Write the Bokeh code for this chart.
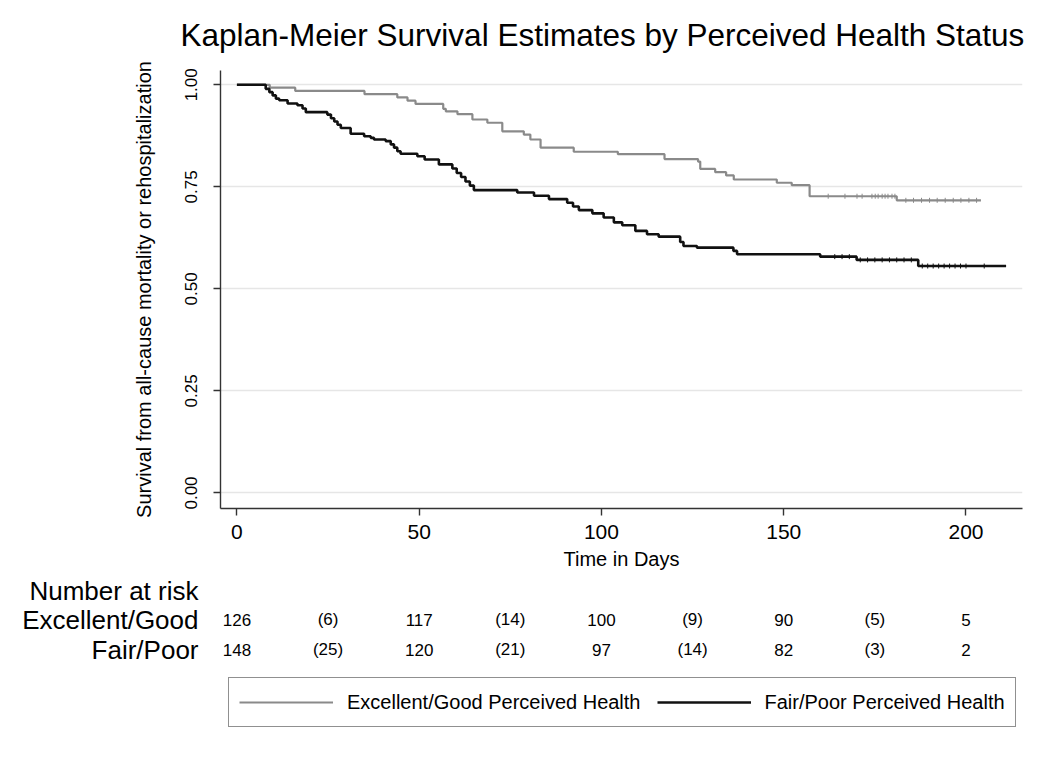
import numpy as np
from bokeh.plotting import figure
from bokeh.layouts import column
from bokeh.models import Range1d, FixedTicker, Label, Legend, LegendItem, NumeralTickFormatter
from bokeh.embed import file_html
from bokeh.resources import INLINE

# ---------------- data ----------------
title_text = "Kaplan-Meier Survival Estimates by Perceived Health Status"
y_label = "Survival from all-cause mortality or rehospitalization"
x_label = "Time in Days"
x_ticks = [0, 50, 100, 150, 200]
y_ticks = [0.0, 0.25, 0.5, 0.75, 1.0]

# Excellent/Good perceived health (grey)
eg_time = [0, 9, 16, 35, 44, 46.8, 49, 56.6, 57.3, 60.5, 64.6, 68.7, 72.8, 78.7, 80.5,
           83.3, 92.4, 104.5, 117.3, 126.5, 127.1, 131.2, 134.2, 136.3, 148.1, 152.2,
           157.1, 181.0, 204.1]
eg_surv = [1.0, 0.993, 0.985, 0.977, 0.969, 0.961, 0.953, 0.941, 0.935, 0.928, 0.915,
           0.907, 0.886, 0.878, 0.866, 0.846, 0.836, 0.830, 0.818, 0.812, 0.794, 0.786,
           0.778, 0.768, 0.760, 0.754, 0.727, 0.717, 0.717]

# Fair/Poor perceived health (black)
fp_time = [0, 7.9, 8.9, 9.8, 10.7, 11.6, 13.9, 16.6, 18.0, 18.9, 24.8, 25.8, 26.7, 27.6,
           28.5, 31.2, 34.9, 36.7, 37.6, 40.8, 42.2, 43.1, 44.0, 44.9, 49.5, 51.5, 55.4,
           59.1, 60.3, 61.5, 62.7, 63.9, 65.0, 76.9, 81.5, 85.6, 90.6, 92.2, 93.8, 97.5,
           100.6, 103.4, 105.7, 109.3, 112.5, 115.7, 121.6, 122.5, 126.2, 136.2, 137.2,
           160.0, 170.0, 186.9, 211.0]
fp_surv = [1.0, 0.990, 0.982, 0.974, 0.966, 0.962, 0.954, 0.950, 0.942, 0.933, 0.927,
           0.918, 0.910, 0.902, 0.894, 0.880, 0.874, 0.870, 0.866, 0.862, 0.854, 0.846,
           0.837, 0.831, 0.825, 0.817, 0.805, 0.795, 0.784, 0.774, 0.763, 0.753, 0.742,
           0.736, 0.728, 0.720, 0.711, 0.702, 0.693, 0.685, 0.675, 0.663, 0.656, 0.642,
           0.634, 0.628, 0.615, 0.605, 0.601, 0.593, 0.585, 0.579, 0.571, 0.556, 0.556]

# censoring times
eg_censor = [162.2, 166.8, 170.1, 171.5, 174.2, 175.1, 175.9, 177.0, 177.8, 178.6, 179.7,
             180.5, 183.5, 185.6, 187.8, 190.0, 192.1, 194.3, 196.5, 198.6, 200.8, 202.9]
fp_censor = [164, 166, 168, 171, 173, 175, 177, 179, 181, 183, 185, 188, 189.5, 191,
             192.5, 194, 195.5, 197, 198.5, 200, 205]

# number at risk table
risk_title = "Number at risk"
risk_rows = ["Excellent/Good", "Fair/Poor"]
risk_time = [0, 25, 50, 75, 100, 125, 150, 175, 200]
risk_eg = ["126", "(6)", "117", "(14)", "100", "(9)", "90", "(5)", "5"]
risk_fp = ["148", "(25)", "120", "(21)", "97", "(14)", "82", "(3)", "2"]

legend_labels = ["Excellent/Good Perceived Health", "Fair/Poor Perceived Health"]

# ---------------- layout ----------------
W = 1034
H_MAIN, H_BOTTOM = 572, 175
ML, MR, MT, MB = 220, 12, 70, 62
X0, X1 = -4.5, 215.5
Y0, Y1 = -0.038, 1.035
FONT = "Liberation Sans"
GREY = "#8a8a8a"
BLACK = "#111111"
ROW_Y = [18, 47, 77]   # vertical centres of the risk-table rows (px inside bottom panel)


def step_value(times, surv, t):
    idx = np.searchsorted(np.asarray(times), t, side="right") - 1
    return surv[max(idx, 0)]


# ---- main plot ----
p = figure(width=W, height=H_MAIN, x_range=Range1d(X0, X1), y_range=Range1d(Y0, Y1),
           output_backend="svg", toolbar_location=None, title=title_text,
           min_border_left=ML, min_border_right=MR, min_border_top=MT, min_border_bottom=MB)
p.outline_line_color = None
p.title.align = "left"
p.title.vertical_align = "top"
p.title.offset = -40
p.title.standoff = 32
p.title.text_font = FONT
p.title.text_font_size = "31.5px"
p.title.text_font_style = "normal"
p.title.text_color = "black"

p.xgrid.visible = False
p.ygrid.ticker = FixedTicker(ticks=y_ticks)
p.ygrid.grid_line_color = "#e6e6e6"
p.ygrid.grid_line_width = 1.5

for ax in (p.xaxis[0], p.yaxis[0]):
    ax.axis_line_color = "#333333"
    ax.axis_line_width = 1.4
    ax.major_tick_line_color = "#333333"
    ax.major_tick_line_width = 1.4
    ax.major_tick_in = 0
    ax.major_tick_out = 7
    ax.minor_tick_line_color = None
    ax.major_label_text_color = "black"
    ax.major_label_text_font = FONT
    ax.axis_label_text_font = FONT
    ax.axis_label_text_font_style = "normal"
    ax.axis_label_text_color = "black"
    ax.axis_label_text_font_size = "20px"

p.xaxis.ticker = FixedTicker(ticks=x_ticks)
p.xaxis.major_label_text_font_size = "21px"
p.xaxis.major_label_standoff = 9
p.xaxis.axis_label = x_label
p.xaxis.axis_label_standoff = 6

p.yaxis.ticker = FixedTicker(ticks=y_ticks)
p.yaxis.formatter = NumeralTickFormatter(format="0.00")
p.yaxis.major_label_orientation = "vertical"
p.yaxis.major_label_text_font_size = "17px"
p.yaxis.major_label_standoff = 16
p.yaxis.axis_label = y_label
p.yaxis.axis_label_standoff = 28

r_eg = p.step(eg_time, eg_surv, mode="after", line_color=GREY, line_width=2.2)
r_fp = p.step(fp_time, fp_surv, mode="after", line_color=BLACK, line_width=2.6)

p.scatter(eg_censor, [step_value(eg_time, eg_surv, t) for t in eg_censor], marker="dash",
          angle=np.pi / 2, size=5, line_color=GREY, line_width=1)
p.scatter(fp_censor, [step_value(fp_time, fp_surv, t) for t in fp_censor], marker="dash",
          angle=np.pi / 2, size=5, line_color=BLACK, line_width=1)

# ---- number-at-risk table and legend ----
pb = figure(width=W, height=H_BOTTOM, x_range=p.x_range, y_range=Range1d(H_BOTTOM, 0),
            output_backend="svg", toolbar_location=None, x_axis_location=None,
            min_border_left=ML, min_border_right=MR, min_border_top=0, min_border_bottom=0)
pb.outline_line_color = None
pb.xgrid.visible = False
pb.ygrid.visible = False
ya = pb.yaxis[0]
ya.ticker = FixedTicker(ticks=ROW_Y)
ya.major_label_overrides = {ROW_Y[0]: risk_title, ROW_Y[1]: risk_rows[0], ROW_Y[2]: risk_rows[1]}
ya.axis_line_color = None
ya.major_tick_line_color = None
ya.minor_tick_line_color = None
ya.major_tick_in = 0
ya.major_tick_out = 0
ya.major_label_standoff = 22
ya.major_label_text_font = FONT
ya.major_label_text_font_size = "26px"
ya.major_label_text_color = "black"

for row_vals, ry in ((risk_eg, ROW_Y[1]), (risk_fp, ROW_Y[2])):
    for t, v in zip(risk_time, row_vals):
        pb.add_layout(Label(x=t, y=ry, text=v, text_align="center",
                            text_baseline="middle", text_font=FONT, text_font_size="17px",
                            text_color="black"))

# legend proxies (a single NaN point: nothing is drawn in the panel itself)
lg_eg = pb.line([np.nan], [np.nan], line_color=GREY, line_width=2.2)
lg_fp = pb.line([np.nan], [np.nan], line_color=BLACK, line_width=2.6)
legend = Legend(items=[LegendItem(label=legend_labels[0], renderers=[lg_eg]),
                       LegendItem(label=legend_labels[1], renderers=[lg_fp])],
                orientation="horizontal", location=(8, 20),
                glyph_width=94, glyph_height=28, label_standoff=14, spacing=16,
                padding=10, margin=0, border_line_color="#222222", border_line_width=1.5,
                label_text_font=FONT, label_text_font_size="20px", label_text_color="black",
                background_fill_color="white", background_fill_alpha=1.0)
pb.add_layout(legend, "center")

layout = column(p, pb, spacing=0)
open("out.html", "w").write(file_html(layout, INLINE))
